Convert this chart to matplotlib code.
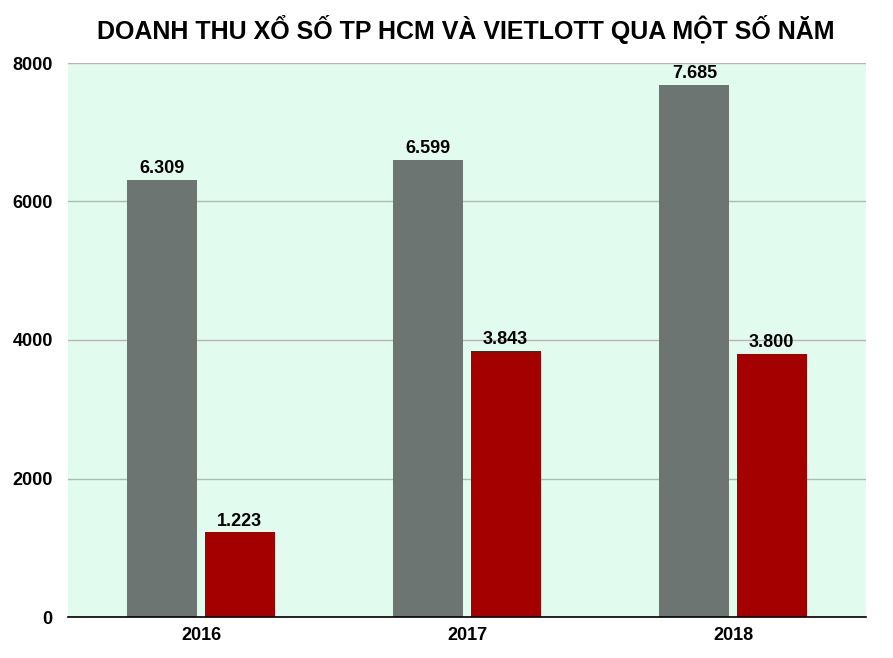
import matplotlib
matplotlib.use("Agg")
import matplotlib.pyplot as plt
import numpy as np

years = ["2016", "2017", "2018"]
hcm = [6309, 6599, 7685]
vietlott = [1223, 3843, 3800]
yticks = [0, 2000, 4000, 6000, 8000]
title = "DOANH THU XỔ SỐ TP HCM VÀ VIETLOTT QUA MỘT SỐ NĂM"

def fmt(v):
    return f"{v:,}".replace(",", ".")

FAM = ["Liberation Sans", "DejaVu Sans"]

fig = plt.figure(figsize=(8.93, 6.58), dpi=100)
ax = fig.add_axes([68/893, 41/658, 798/893, 554/658])
ax.set_facecolor("#e1fcef")

x = np.arange(len(years))
w = 0.263
off = 0.145
b1 = ax.bar(x - off, hcm, w, color="#6c7572", zorder=3)
b2 = ax.bar(x + off, vietlott, w, color="#a50000", zorder=3)
for bars, vals in ((b1, hcm), (b2, vietlott)):
    for r, v in zip(bars, vals):
        ax.annotate(fmt(v), (r.get_x() + r.get_width()/2, v), xytext=(0, 2),
                    textcoords="offset points", ha="center", va="bottom",
                    fontsize=13, fontweight="bold", family=FAM)

ax.set_xlim(-0.5, 2.5)
ax.set_ylim(0, 8000)
ax.set_yticks(yticks)
ax.set_yticklabels([str(t) for t in yticks])
ax.set_xticks(x)
ax.set_xticklabels(years)
ax.grid(axis="y", color="#b5b5b5", linewidth=1, zorder=0)
for s in ("top", "right", "left"):
    ax.spines[s].set_visible(False)
ax.spines["bottom"].set_color("black")
ax.spines["bottom"].set_linewidth(1.2)
ax.spines["bottom"].set_zorder(4)
ax.tick_params(axis="both", length=0, labelsize=13)
ax.tick_params(axis="x", pad=7)
ax.tick_params(axis="y", pad=11)
for lab in ax.get_xticklabels() + ax.get_yticklabels():
    lab.set_fontweight("bold")
    lab.set_family(FAM)

fig.text(466/893, 1 - 30/658, title, ha="center", va="center", fontsize=18,
         fontweight="bold", family=FAM)

fig.savefig("out.png", dpi=100, facecolor="white")
